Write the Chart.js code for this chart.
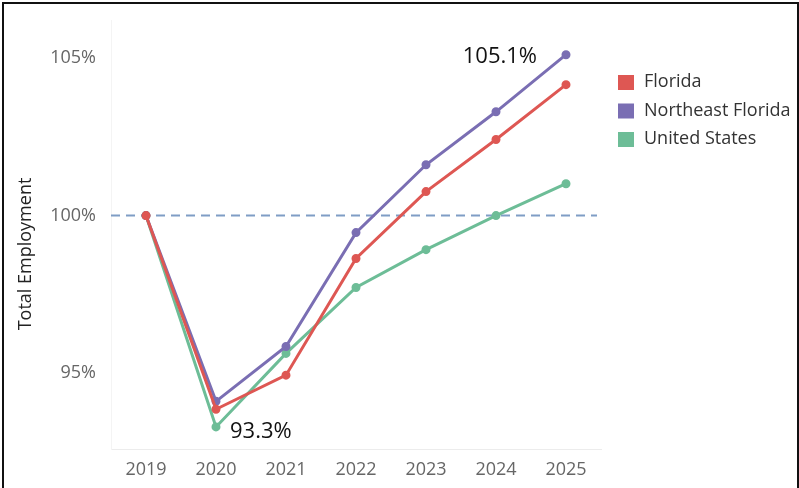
<!DOCTYPE html>
<html>
<head>
<meta charset="utf-8">
<script src="https://cdn.jsdelivr.net/npm/chart.js@4.4.1/dist/chart.umd.min.js"></script>
<style>
    html, body { margin: 0; padding: 0; background: #fff; }
    .frame {
        position: absolute; left: 2px; top: 2px; width: 793px; height: 486px;
        border: 2px solid #111; border-bottom: none;
    }
    .wrap { position: absolute; left: 0; top: 0; width: 799px; height: 488px; }
</style>
</head>
<body>
<div class="frame"></div>
<div class="wrap"><canvas id="employmentChart" width="799" height="488"></canvas></div>
<script>
const years = ['2019', '2020', '2021', '2022', '2023', '2024', '2025'];
const florida = [100, 93.86, 94.94, 98.64, 100.76, 102.41, 104.15];
const northeastFlorida = [100, 94.11, 95.85, 99.46, 101.61, 103.29, 105.1];
const unitedStates = [100, 93.3, 95.63, 97.72, 98.92, 100.0, 101.01];
const yTicks = [95, 100, 105];
const baseline = 100;
const yTitle = 'Total Employment';

const FONT = '"Open Sans", sans-serif';

const series = [
    { label: 'Florida', data: florida, color: '#de5753' },
    { label: 'Northeast Florida', data: northeastFlorida, color: '#7a6eb3' },
    { label: 'United States', data: unitedStates, color: '#6dbd97' }
];

// dashed reference line at 100% across the whole plot
const baselinePlugin = {
    id: 'baseline',
    beforeDatasetsDraw(chart) {
        const { ctx, chartArea, scales } = chart;
        const y = scales.y.getPixelForValue(baseline);
        ctx.save();
        ctx.strokeStyle = '#7f9dc5';
        ctx.lineWidth = 2;
        ctx.setLineDash([9, 6]);
        ctx.beginPath();
        ctx.moveTo(chartArea.left, y);
        ctx.lineTo(chartArea.right - 4, y);
        ctx.stroke();
        ctx.restore();
    }
};

// value callouts: NE Florida peak and US trough
const calloutPlugin = {
    id: 'callouts',
    afterDatasetsDraw(chart) {
        const { ctx, scales } = chart;
        ctx.save();
        ctx.font = '22px ' + FONT;
        ctx.fillStyle = '#111';
        ctx.textBaseline = 'middle';

        const last = years.length - 1;
        const peak = northeastFlorida[last];
        ctx.textAlign = 'right';
        ctx.fillText(peak.toFixed(1) + '%', scales.x.getPixelForValue(last) - 29, scales.y.getPixelForValue(peak) + 2);

        const low = Math.min(...unitedStates);
        const i = unitedStates.indexOf(low);
        ctx.textAlign = 'left';
        ctx.fillText(low.toFixed(1) + '%', scales.x.getPixelForValue(i) + 14, scales.y.getPixelForValue(low) + 5);
        ctx.restore();
    }
};

// rotated y-axis title, sitting a bit below the plot's middle
const yTitlePlugin = {
    id: 'yTitle',
    afterDraw(chart) {
        const { ctx } = chart;
        ctx.save();
        ctx.translate(26, 254);
        ctx.rotate(-Math.PI / 2);
        ctx.font = '18px ' + FONT;
        ctx.fillStyle = '#222';
        ctx.textAlign = 'center';
        ctx.textBaseline = 'middle';
        ctx.fillText(yTitle, 0, 0);
        ctx.restore();
    }
};

// square legend to the right of the plot
const legendPlugin = {
    id: 'sideLegend',
    afterDraw(chart) {
        const { ctx, chartArea } = chart;
        const x = chartArea.right + 17;
        ctx.save();
        ctx.font = '18px ' + FONT;
        ctx.textBaseline = 'middle';
        ctx.textAlign = 'left';
        series.forEach((s, i) => {
            const y = 82 + i * 28.5;
            ctx.fillStyle = s.color;
            ctx.fillRect(x, y - 7, 16, 15);
            ctx.fillStyle = '#333';
            ctx.fillText(s.label, x + 26, y);
        });
        ctx.restore();
    }
};

const ctx = document.getElementById('employmentChart').getContext('2d');
new Chart(ctx, {
    type: 'line',
    data: {
        labels: years,
        datasets: series.map(s => ({
            label: s.label,
            data: s.data,
            borderColor: s.color,
            backgroundColor: s.color,
            borderWidth: 3,
            pointRadius: 3,
            pointHoverRadius: 3,
            tension: 0
        }))
    },
    options: {
        responsive: false,
        animation: false,
        layout: { padding: { top: 20, right: 198, bottom: 0, left: 0 } },
        plugins: {
            legend: { display: false },
            tooltip: { enabled: false }
        },
        scales: {
            x: {
                offset: true,
                grid: { display: false },
                border: { color: '#ececec', width: 1 },
                ticks: { color: '#666', font: { family: FONT, size: 18 }, padding: 2 },
                afterFit(scale) { scale.height = 39; }
            },
            y: {
                min: 92.6,
                max: 106.2,
                grid: { display: false },
                border: { color: '#f4f4f4', width: 1 },
                afterBuildTicks(scale) { scale.ticks = yTicks.map(v => ({ value: v })); },
                ticks: {
                    color: '#666',
                    font: { family: FONT, size: 18 },
                    padding: 7,
                    callback: v => v + '%'
                },
                afterFit(scale) { scale.width = 111; }
            }
        }
    },
    plugins: [baselinePlugin, calloutPlugin, yTitlePlugin, legendPlugin]
});
</script>
</body>
</html>
